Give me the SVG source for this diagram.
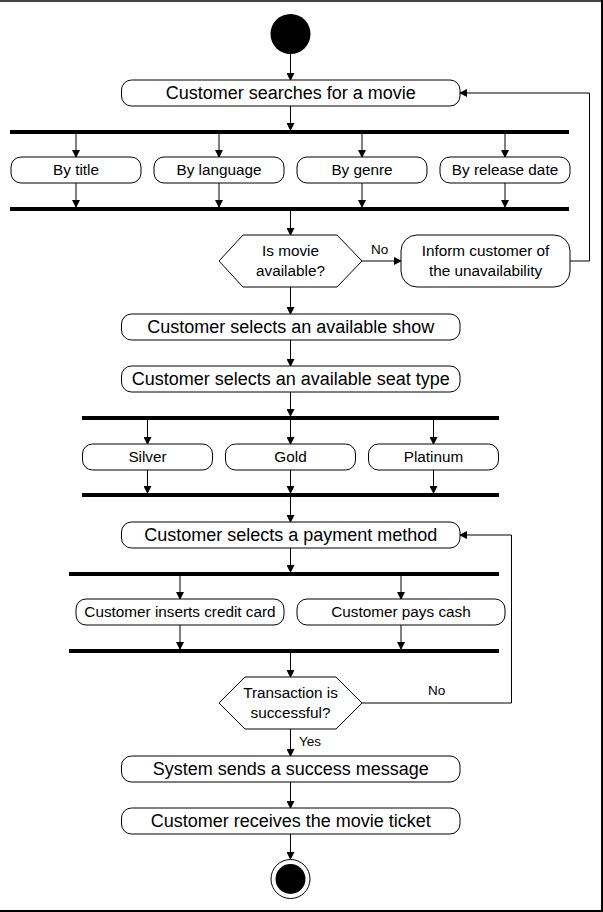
<svg xmlns="http://www.w3.org/2000/svg" width="603" height="912" viewBox="0 0 603 912">
<defs>
<marker id="ah" markerWidth="8" markerHeight="8" refX="7" refY="4" orient="auto" markerUnits="userSpaceOnUse">
<path d="M0,0 L8,4 L0,8 Z" fill="#000"/>
</marker>
<style>
.box{fill:#fff;stroke:#000;stroke-width:1}
.bar{fill:#000}
.t18{font-family:"Liberation Sans",Arial,sans-serif;font-size:18px;fill:#000;text-anchor:middle}
.t15{font-family:"Liberation Sans",Arial,sans-serif;font-size:15.3px;fill:#000;text-anchor:middle}
.t13{font-family:"Liberation Sans",Arial,sans-serif;font-size:13.5px;fill:#000}
.c{fill:none;stroke:#000;stroke-width:1;marker-end:url(#ah)}
</style>
</defs>
<rect x="0" y="0" width="603" height="912" fill="#fff"/>
<rect x="0" y="0" width="603" height="2" fill="#444"/>
<rect x="601" y="0" width="2" height="912" fill="#000"/>
<rect x="0" y="910" width="603" height="2" fill="#000"/>

<g id="connectors">
<path class="c" d="M290.5,54 V80"/>
<path class="c" d="M290.5,106 V130"/>
<path class="c" d="M76,134 V157"/>
<path class="c" d="M219,134 V157"/>
<path class="c" d="M362,134 V157"/>
<path class="c" d="M505,134 V157"/>
<path class="c" d="M76,183 V207"/>
<path class="c" d="M219,183 V207"/>
<path class="c" d="M362,183 V207"/>
<path class="c" d="M505,183 V207"/>
<path class="c" d="M290.5,211 V235"/>
<path class="c" d="M362,261 H401"/>
<path class="c" d="M570,261 H589.5 V93 H460"/>
<path class="c" d="M290.5,287 V314"/>
<path class="c" d="M290.5,340 V366"/>
<path class="c" d="M290.5,392 V416"/>
<path class="c" d="M147.5,420 V444"/>
<path class="c" d="M290.5,420 V444"/>
<path class="c" d="M433.5,420 V444"/>
<path class="c" d="M147.5,470 V493"/>
<path class="c" d="M290.5,470 V493"/>
<path class="c" d="M433.5,470 V493"/>
<path class="c" d="M290.5,497 V522"/>
<path class="c" d="M290.5,548 V572"/>
<path class="c" d="M180,576 V599"/>
<path class="c" d="M401,576 V599"/>
<path class="c" d="M180,625 V649"/>
<path class="c" d="M401,625 V649"/>
<path class="c" d="M290.5,653 V677"/>
<path class="c" d="M362,703 H511.5 V535 H460"/>
<path class="c" d="M290.5,729 V756"/>
<path class="c" d="M290.5,782 V808"/>
<path class="c" d="M290.5,834 V859"/>
<text class="t13" x="371" y="254">No</text>
<text class="t13" x="428" y="695">No</text>
<text class="t13" x="299" y="746">Yes</text>
</g>

<g id="start"><circle cx="290.5" cy="34" r="20" fill="#000"/></g>

<g id="search"><rect class="box" x="121.5" y="80" width="338.5" height="26" rx="10"/><text class="t18" x="290.75" y="98.5">Customer searches for a movie</text></g>

<g id="fork1"><rect class="bar" x="10" y="130" width="559" height="4"/></g>
<g id="bytitle"><rect class="box" x="11" y="157" width="130" height="26" rx="10"/><text class="t15" x="76" y="174.5">By title</text></g>
<g id="bylanguage"><rect class="box" x="154" y="157" width="130" height="26" rx="10"/><text class="t15" x="219" y="174.5">By language</text></g>
<g id="bygenre"><rect class="box" x="297" y="157" width="130" height="26" rx="10"/><text class="t15" x="362" y="174.5">By genre</text></g>
<g id="byrelease"><rect class="box" x="440" y="157" width="130" height="26" rx="10"/><text class="t15" x="505" y="174.5">By release date</text></g>
<g id="join1"><rect class="bar" x="10" y="207" width="559" height="4"/></g>

<g id="available"><polygon class="box" points="219,261 243,235 337,235 362,261 337,287 243,287"/><text class="t15" x="290.5" y="255.5">Is movie</text><text class="t15" x="290.5" y="275.5">available?</text></g>
<g id="inform"><rect class="box" x="401" y="235" width="169" height="52" rx="16"/><text class="t15" x="485.5" y="255.5">Inform customer of</text><text class="t15" x="485.5" y="275.5">the unavailability</text></g>

<g id="show"><rect class="box" x="121.5" y="314" width="338.5" height="26" rx="10"/><text class="t18" x="290.75" y="332.5">Customer selects an available show</text></g>
<g id="seat"><rect class="box" x="121.5" y="366" width="338.5" height="26" rx="10"/><text class="t18" x="290.75" y="384.5">Customer selects an available seat type</text></g>

<g id="fork2"><rect class="bar" x="82" y="416" width="417" height="4"/></g>
<g id="silver"><rect class="box" x="82.5" y="444" width="130" height="26" rx="10"/><text class="t15" x="147.5" y="461.5">Silver</text></g>
<g id="gold"><rect class="box" x="225.5" y="444" width="130" height="26" rx="10"/><text class="t15" x="290.5" y="461.5">Gold</text></g>
<g id="platinum"><rect class="box" x="368.5" y="444" width="130" height="26" rx="10"/><text class="t15" x="433.5" y="461.5">Platinum</text></g>
<g id="join2"><rect class="bar" x="82" y="493" width="417" height="4"/></g>

<g id="payment"><rect class="box" x="121.5" y="522" width="338.5" height="26" rx="10"/><text class="t18" x="290.75" y="540.5">Customer selects a payment method</text></g>

<g id="fork3"><rect class="bar" x="69" y="572" width="430" height="4"/></g>
<g id="credit"><rect class="box" x="76" y="599" width="208" height="26" rx="10"/><text class="t15" x="180" y="616.5">Customer inserts credit card</text></g>
<g id="cash"><rect class="box" x="297" y="599" width="208" height="26" rx="10"/><text class="t15" x="401" y="616.5">Customer pays cash</text></g>
<g id="join3"><rect class="bar" x="69" y="649" width="430" height="4"/></g>

<g id="transaction"><polygon class="box" points="219,703 245,677 336,677 362,703 336,729 245,729"/><text class="t15" x="290.5" y="697.5">Transaction is</text><text class="t15" x="290.5" y="717.5">successful?</text></g>

<g id="success"><rect class="box" x="121.5" y="756" width="338.5" height="26" rx="10"/><text class="t18" x="290.75" y="774.5">System sends a success message</text></g>
<g id="ticket"><rect class="box" x="121.5" y="808" width="338.5" height="26" rx="10"/><text class="t18" x="290.75" y="826.5">Customer receives the movie ticket</text></g>

<g id="end"><circle cx="290.5" cy="879" r="19.5" fill="#fff" stroke="#000" stroke-width="1"/><circle cx="290.5" cy="879" r="15" fill="#000"/></g>
</svg>
